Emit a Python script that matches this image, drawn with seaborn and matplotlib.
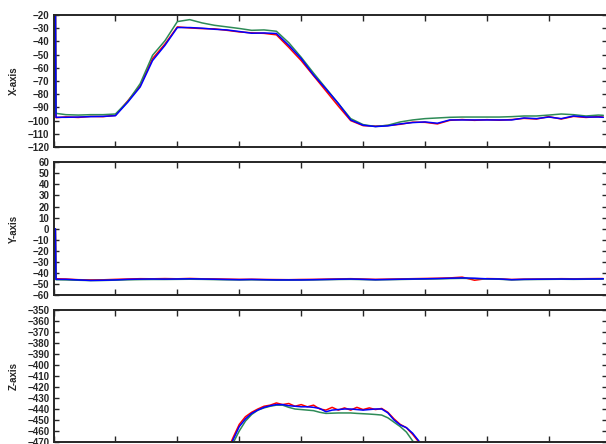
import numpy as np
import matplotlib
matplotlib.use('Agg')
import matplotlib.pyplot as plt
import seaborn as sns

# sample index (x) for the X / Y panels
idx = [3, 4] + list(range(20, 881, 20)) + [888]

x_red = [0, -97.8, -97.2, -97.6, -96.8, -97.0, -96.0, -85.0, -73.5, -53.0, -42.0, -29.0, -29.8, -30.3,
         -30.5, -31.6, -32.8, -33.5, -33.9, -35.0, -44.5, -54.5, -66.0, -77.5, -89.0, -100.0, -103.8,
         -104.2, -103.7, -102.8, -101.2, -101.3, -102.5, -99.8, -99.2, -99.8, -99.3, -99.7, -99.2,
         -98.3, -98.8, -97.0, -98.8, -96.8, -97.6, -97.0, -97.4]
x_green = [0, -94.5, -95.5, -95.8, -95.5, -95.5, -95.0, -85.5, -72.0, -50.5, -39.5, -25.0, -23.5, -26.0,
           -27.8, -29.0, -30.2, -31.6, -31.3, -32.3, -41.0, -52.0, -64.0, -75.5, -87.0, -98.5, -103.0,
           -104.5, -103.5, -101.0, -99.5, -98.5, -98.0, -97.5, -97.3, -97.3, -97.3, -97.3, -97.0,
           -96.5, -96.5, -95.8, -95.0, -95.5, -96.5, -95.8, -96.0]
x_blue = [0, -97.5, -97.5, -97.3, -97.0, -96.8, -96.3, -86.0, -74.5, -54.5, -43.0, -29.5, -29.5, -30.0,
          -30.8, -31.3, -32.5, -33.8, -33.6, -34.0, -43.0, -53.0, -65.5, -76.0, -87.0, -99.5, -103.5,
          -104.5, -104.0, -102.5, -101.5, -101.0, -102.0, -99.5, -99.5, -99.5, -99.5, -99.5, -99.5,
          -98.0, -98.5, -97.3, -98.5, -96.5, -97.3, -97.3, -97.5]

y_red = [0, -45.0, -45.2, -45.8, -46.0, -45.9, -45.5, -45.2, -44.9, -45.0, -44.8, -45.0, -44.7, -45.0,
         -45.1, -45.3, -45.5, -45.4, -45.6, -45.7, -45.8, -45.6, -45.5, -45.3, -45.1, -44.9, -45.2,
         -45.5, -45.3, -45.1, -44.9, -44.7, -44.5, -44.2, -43.5, -46.3, -44.8, -45.0, -45.6, -45.3,
         -45.2, -45.1, -44.9, -45.0, -44.9, -44.8, -44.8]
y_green = [0, -45.8, -46.0, -46.3, -46.6, -46.5, -46.2, -45.9, -45.7, -45.6, -45.6, -45.5, -45.4, -45.5,
           -45.7, -45.9, -46.0, -45.9, -46.0, -46.2, -46.2, -46.1, -46.0, -45.8, -45.6, -45.5, -45.7,
           -46.0, -45.8, -45.6, -45.4, -45.3, -45.1, -44.8, -44.6, -44.8, -45.2, -45.4, -46.0, -45.7,
           -45.6, -45.5, -45.4, -45.5, -45.4, -45.3, -45.2]
y_blue = [0, -45.5, -45.5, -46.0, -46.5, -46.3, -46.0, -45.5, -45.3, -45.2, -45.3, -45.2, -45.0, -45.2,
          -45.4, -45.6, -45.8, -45.6, -45.8, -46.0, -46.0, -46.0, -45.8, -45.6, -45.4, -45.2, -45.5,
          -45.8, -45.6, -45.4, -45.2, -45.0, -44.8, -44.5, -44.2, -44.5, -45.0, -45.2, -45.8, -45.5,
          -45.4, -45.3, -45.2, -45.3, -45.2, -45.1, -45.0]

# Z panel is sampled more finely
z_idx = [0, 200, 260, 280] + list(range(290, 601, 10)) + [620, 700, 888]
z_red = [-540, -540, -508, -479,
         -466, -454, -447, -443, -440, -437.5, -436.5, -434.5, -436, -435,
         -437.5, -436, -438, -436.5, -440, -441, -438.5, -441, -439, -441,
         -438.5, -440.5, -439, -440.5, -439.5, -443, -449, -454, -457, -463,
         -470, -478, -496, -530, -540]
z_green = [-545, -545, -515, -486,
           -471, -460, -451, -445, -441, -439, -437.5, -436.5, -436.5, -438.5,
           -440, -440.5, -441, -441.5, -443, -444, -443.8, -443.6, -443.6, -443.6,
           -444, -444.3, -444.6, -445, -445.5, -448, -452, -456, -461, -469,
           -475, -483, -500, -532, -545]
z_blue = [-540, -540, -510, -482,
          -468, -456, -449, -444, -441, -438.5, -437, -436, -436, -437,
          -437.5, -438, -438, -438.5, -439.5, -442.5, -441, -440.5, -440, -440,
          -440.5, -441, -440.5, -440, -440, -443.5, -450, -454.5, -457, -462,
          -469, -477, -495, -530, -540]

panels = [
    ('X-axis', idx, (x_red, x_green, x_blue), (-120, -20), 10),
    ('Y-axis', idx, (y_red, y_green, y_blue), (-60, 60), 10),
    ('Z-axis', z_idx, (z_red, z_green, z_blue), (-470, -350), 10),
]
colors = ['#ff0000', '#2e8b57', '#0000ff']

sns.set_style('ticks')
plt.rcParams['font.family'] = ['Liberation Sans', 'DejaVu Sans']
plt.rcParams['font.weight'] = 'bold'

fig = plt.figure(figsize=(6.06, 4.44), dpi=100)
rects = [[0.0883, 0.6689, 0.9134, 0.2973],
         [0.0883, 0.3345, 0.9134, 0.3006],
         [0.0883, 0.0045, 0.9134, 0.2973]]

for rect, (label, xs, series, ylim, step) in zip(rects, panels):
    ax = fig.add_axes(rect)
    for vals, c in zip(series, colors):
        sns.lineplot(x=xs, y=vals, color=c, lw=1.1, ax=ax)
    ax.set_xlim(0, 894)
    ax.set_ylim(*ylim)
    ax.set_xticks(range(0, 894, 100))
    ax.set_yticks(np.arange(ylim[0], ylim[1] + 1, step))
    ax.tick_params(axis='both', direction='in', top=True, right=True, width=1.0,
                   labelsize=7, pad=3, labelbottom=False)
    ax.tick_params(axis='x', length=4.5)
    ax.tick_params(axis='y', length=3.5)
    for s in ax.spines.values():
        s.set_linewidth(1.4)
    ax.set_ylabel(label, fontsize=7, fontweight='bold')
    ax.yaxis.set_label_coords(-0.063, 0.5)

fig.savefig('out.png', dpi=100)
